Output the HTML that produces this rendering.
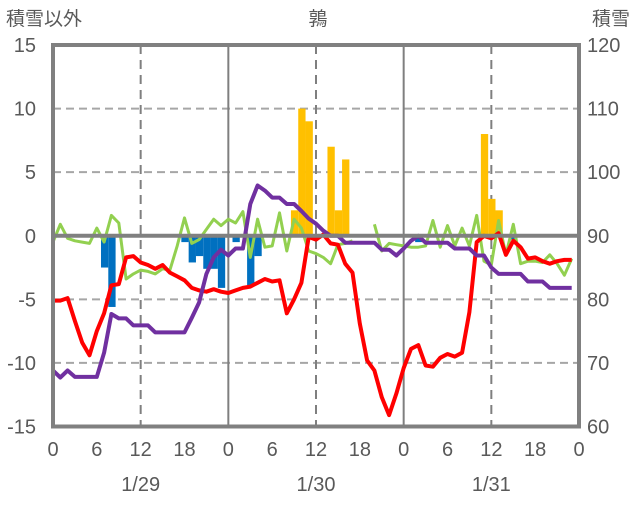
<!DOCTYPE html>
<html><head><meta charset="utf-8"><style>
body{margin:0;background:#fff;}
svg text{font-family:"Liberation Sans","Noto Sans CJK JP",sans-serif;fill:#595959;}
</style></head><body>
<svg id="chart" width="636" height="501" xmlns="http://www.w3.org/2000/svg">
<text x="6" y="25" font-size="19">積雪以外</text>
<text x="318" y="25" font-size="19" text-anchor="middle">鶉</text>
<text x="630" y="25" font-size="19" text-anchor="end">積雪</text>
<g id="grid"></g><g id="bars"></g><g id="lines"></g><g id="frame"></g><g id="labels"></g>
</svg>
<script>
const hourLabels=["0","6","12","18","0","6","12","18","0","6","12","18","0"];
const dateLabels=["1/29","1/30","1/31"];
const leftTicks=[15,10,5,0,-5,-10,-15];
const rightTicks=[120,110,100,90,80,70,60];
const redSeries=[-5.1,-5.1,-4.9,-6.7,-8.4,-9.4,-7.5,-6.1,-3.9,-3.8,-1.7,-1.6,-2.1,-2.3,-2.6,-2.3,-2.9,-3.2,-3.5,-4.1,-4.3,-4.4,-4.2,-4.4,-4.5,-4.3,-4.1,-4.0,-3.7,-3.4,-3.6,-3.5,-6.1,-5.0,-3.7,-0.1,-0.3,0.1,-0.6,-0.7,-2.2,-2.9,-6.9,-9.8,-10.6,-12.7,-14.1,-12.4,-10.4,-8.9,-8.6,-10.2,-10.3,-9.6,-9.3,-9.5,-9.2,-6.0,-0.5,0.0,-0.2,0.2,-1.5,-0.4,-0.9,-1.8,-1.7,-2.0,-2.2,-2.0,-1.9,-1.9];
const greenSeries=[-0.5,0.9,-0.2,-0.4,-0.5,-0.6,0.6,-0.5,1.6,1.0,-3.4,-3.0,-2.7,-2.8,-3.0,-2.6,-2.7,-0.8,1.4,-0.6,-0.3,0.5,1.3,0.8,1.3,1.0,1.9,-1.7,1.3,-0.9,-0.8,1.8,-1.2,1.3,0.6,-1.2,-1.4,-1.7,-2.2,-0.7,-0.6,-0.4,null,null,0.9,-1.2,-0.6,-0.7,-0.8,-0.9,-0.9,-0.8,1.2,-0.9,0.8,-0.8,0.6,-0.8,1.6,-2.0,-2.3,1.2,-1.5,0.9,-2.2,-2.0,-2.0,-2.1,-1.5,-2.2,-3.1,-1.8];
const purpleSeries=[68.8,67.7,68.8,67.8,67.8,67.8,67.8,71.6,77.7,77.0,77.0,75.9,75.9,75.9,74.8,74.8,74.8,74.8,74.8,77.1,79.5,84.0,86.6,87.8,86.9,88.0,88.0,95.0,97.9,97.1,96.0,96.0,95.0,95.0,93.9,92.7,91.9,90.8,90.0,90.0,88.9,88.9,88.9,88.9,88.9,87.8,87.8,86.9,88.0,89.2,90.0,88.9,88.9,88.9,88.9,88.0,88.0,88.0,86.9,86.9,85.0,84.0,84.0,84.0,84.0,82.8,82.8,82.8,81.8,81.8,81.8,81.8];
const barHours=[7,8,18,19,20,21,22,23,25,27,28,33,34,35,38,39,40,50,59,60,61,63];
const barValues=[-2.5,-5.6,-0.5,-2.1,-1.6,-2.6,-2.6,-4.1,-0.5,-3.9,-1.6,2.0,10.0,9.0,7.0,2.0,6.0,-0.5,8.0,2.9,2.0,-0.3];

const NS="http://www.w3.org/2000/svg";
const X0=53,X1=579,Y0=45,Y1=426.5;
const xs=h=>X0+(X1-X0)*h/72;
const yl=v=>Y0+(15-v)*(Y1-Y0)/30;
const yr=v=>Y0+(120-v)*(Y1-Y0)/60;
function mk(parent,tag,attrs){const e=document.createElementNS(NS,tag);for(const k in attrs)e.setAttribute(k,attrs[k]);document.getElementById(parent).appendChild(e);return e;}

// grid
[10,5,-5,-10].forEach(v=>{const e=mk('grid','line',{x1:X0,x2:X1,y1:yl(v),y2:yl(v),stroke:'#a6a6a6','stroke-width':2,'stroke-dasharray':'8,5'});

});
[12,36,60].forEach(h=>{const e=mk('grid','line',{x1:xs(h),x2:xs(h),y1:Y0,y2:Y1,stroke:'#7f7f7f','stroke-width':2,'stroke-dasharray':'9,6'});

});
[24,48].forEach(h=>{const e=mk('grid','line',{x1:xs(h),x2:xs(h),y1:Y0,y2:Y1,stroke:'#7f7f7f','stroke-width':2});

});

// bars
const bw=(X1-X0)/72;
barHours.forEach((h,i)=>{const v=barValues[i];const y=Math.min(yl(v),yl(0));const hgt=Math.abs(yl(v)-yl(0));
const e=mk('bars','rect',{x:xs(h)-bw/2+0.5,y:y,width:bw,height:hgt,fill:v>=0?'#ffc000':'#0070c0'});

});

function path(arr,f){let d='',pen=false;arr.forEach((v,h)=>{if(v===null){pen=false;return;}d+=(pen?'L':'M')+xs(h).toFixed(1)+','+f(v).toFixed(1);pen=true;});return d;}
let e;
e=mk('lines','path',{d:path(greenSeries,yl),fill:'none',stroke:'#92d050','stroke-width':3,'stroke-linejoin':'round'});


e=mk('lines','path',{d:path(redSeries,yl),fill:'none',stroke:'#ff0000','stroke-width':4,'stroke-linejoin':'round'});


e=mk('lines','path',{d:path(purpleSeries,yr),fill:'none',stroke:'#7030a0','stroke-width':4,'stroke-linejoin':'round'});



// frame
e=mk('frame','rect',{x:X0,y:Y0,width:X1-X0,height:Y1-Y0,fill:'none',stroke:'#808080','stroke-width':4});


e=mk('frame','line',{x1:X0,x2:X1,y1:yl(0),y2:yl(0),stroke:'#808080','stroke-width':4});



// labels
leftTicks.forEach(v=>{const t=mk('labels','text',{x:36,y:yl(v)+7,'font-size':20,'text-anchor':'end'});t.textContent=v;

});
rightTicks.forEach(v=>{const t=mk('labels','text',{x:587,y:yr(v)+7,'font-size':20});t.textContent=v;

});
hourLabels.forEach((s,i)=>{const t=mk('labels','text',{x:xs(i*6),y:456,'font-size':20,'text-anchor':'middle'});t.textContent=s;

});
dateLabels.forEach((s,i)=>{const t=mk('labels','text',{x:xs(12+24*i),y:491,'font-size':20,'text-anchor':'middle'});t.textContent=s;

});
</script>
</body></html>
